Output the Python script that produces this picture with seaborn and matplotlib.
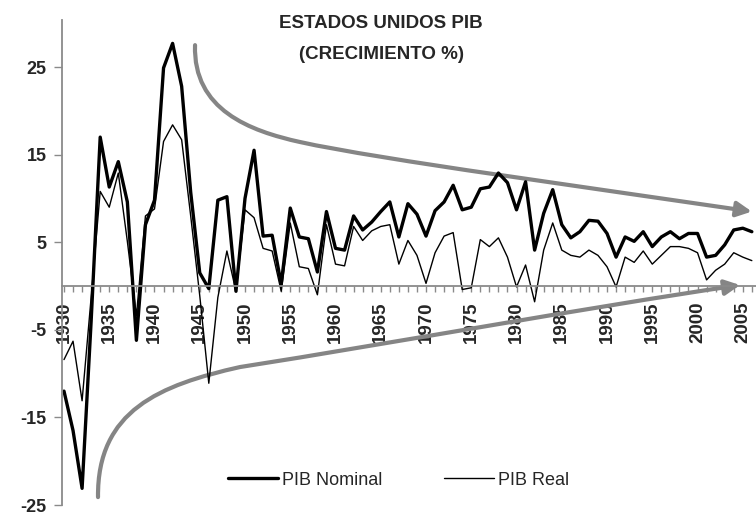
import matplotlib
matplotlib.use("Agg")
import matplotlib.pyplot as plt
from matplotlib.path import Path
from matplotlib.patches import FancyArrowPatch
import seaborn as sns
import pandas as pd

# data, 1930-2006 (% annual growth)
years = list(range(1930, 2007))
pib_nominal = [
    -12.0, -16.5, -23.1, -4.0, 17.0, 11.3, 14.2, 9.6, -6.2, 7.0,
    9.8, 24.9, 27.7, 22.8, 10.7, 1.5, -0.3, 9.8, 10.2, -0.6,
    10.0, 15.5, 5.7, 5.8, 0.2, 8.9, 5.6, 5.4, 1.6, 8.5,
    4.3, 4.1, 8.0, 6.4, 7.3, 8.5, 9.6, 5.6, 9.4, 8.2,
    5.7, 8.6, 9.6, 11.5, 8.7, 9.0, 11.1, 11.3, 12.9, 11.8,
    8.7, 11.9, 4.1, 8.3, 11.0, 7.0, 5.5, 6.2, 7.5, 7.4,
    6.0, 3.3, 5.6, 5.1, 6.2, 4.5, 5.6, 6.2, 5.4, 6.0,
    6.0, 3.3, 3.5, 4.7, 6.4, 6.6, 6.2,
]
pib_real = [
    -8.4, -6.3, -13.1, -1.3, 10.8, 9.0, 12.9, 5.1, -3.4, 8.0,
    8.8, 16.5, 18.4, 16.7, 8.0, -1.1, -11.1, -1.3, 4.0, -0.6,
    8.7, 7.8, 4.3, 4.0, -0.6, 7.2, 2.2, 2.0, -1.0, 7.0,
    2.5, 2.3, 6.8, 5.2, 6.3, 6.8, 7.0, 2.5, 5.2, 3.5,
    0.3, 3.8, 5.7, 6.1, -0.4, -0.2, 5.3, 4.5, 5.5, 3.3,
    -0.1, 2.4, -1.8, 4.1, 7.2, 4.1, 3.5, 3.3, 4.1, 3.5,
    2.2, -0.1, 3.3, 2.7, 4.0, 2.5, 3.5, 4.5, 4.5, 4.3,
    3.8, 0.7, 1.8, 2.5, 3.8, 3.3, 2.9,
]
tick_years = list(range(1930, 2006, 5))
y_ticks = [-25, -15, -5, 5, 15, 25]

df = pd.DataFrame({"year": years, "nominal": pib_nominal, "real": pib_real})

sns.set_style("white")
plt.rcParams["font.family"] = ["Liberation Sans", "DejaVu Sans"]

fig = plt.figure(figsize=(7.56, 5.14), dpi=100)
ax = fig.add_axes([62 / 756, 9 / 514, 694 / 756, 485 / 514])

sns.lineplot(data=df, x="year", y="nominal", ax=ax, color="black", lw=2.4, label="PIB Nominal")
sns.lineplot(data=df, x="year", y="real", ax=ax, color="black", lw=1.0, label="PIB Real")

ax.set_xlim(1929.78, 2006.46)
ax.set_ylim(-25, 30.37)
ax.set_xlabel("")
ax.set_ylabel("")

# axes look
grey = "#8a8a8a"
for s in ["top", "right"]:
    ax.spines[s].set_visible(False)
ax.spines["bottom"].set_position(("data", 0))
ax.spines["bottom"].set_color(grey)
ax.spines["left"].set_color(grey)
ax.spines["bottom"].set_linewidth(1.3)
ax.spines["left"].set_linewidth(1.3)

ax.set_xticks(tick_years)
ax.set_xticks(years, minor=True)
ax.set_xticklabels([str(y) for y in tick_years], rotation=90, fontsize=13.5, fontweight="bold")
ax.tick_params(axis="x", which="both", direction="out", length=4, width=1, color=grey, pad=7, bottom=True)
ax.set_yticks(y_ticks)
ax.set_yticklabels([str(v) for v in y_ticks], fontsize=13, fontweight="bold")
ax.tick_params(axis="y", direction="out", length=6, width=1, color=grey, pad=5, left=True)
for lab in ax.get_xticklabels():
    lab.set_verticalalignment("top")

# title
fig.text(0.504, 0.955, "ESTADOS UNIDOS PIB", ha="center", va="center", fontsize=13.5, fontweight="bold")
fig.text(0.505, 0.893, "(CRECIMIENTO %)", ha="center", va="center", fontsize=13.5, fontweight="bold")

# legend
ax.get_legend().remove()
handles, labels = ax.get_legend_handles_labels()
fig.legend(handles, labels, loc="center", bbox_to_anchor=(0.527, 0.066), ncol=2, frameon=False,
           fontsize=13, handlelength=2.8, handletextpad=0.2, columnspacing=3.4)

# the two grey funnel arrows
arrow_grey = "#858585"
top_path = Path(
    [(1944.48, 27.5), (1944.26, 20.1), (1950.55, 17.7), (1956.08, 16.44),
     (1964.92, 14.43), (1989.23, 11.07), (2006.0, 8.5)],
    [Path.MOVETO, Path.CURVE4, Path.CURVE4, Path.CURVE4, Path.CURVE4, Path.CURVE4, Path.CURVE4],
)
bottom_path = Path(
    [(1933.76, -24.1), (1933.65, -14.2), (1940.6, -11.3), (1949.45, -9.25),
     (1967.0, -6.4), (1987.0, -2.6), (2004.7, 0.11)],
    [Path.MOVETO, Path.CURVE4, Path.CURVE4, Path.CURVE4, Path.CURVE4, Path.CURVE4, Path.CURVE4],
)
for p in [top_path, bottom_path]:
    arr = FancyArrowPatch(path=p, arrowstyle="-|>,head_length=0.5,head_width=0.25",
                          mutation_scale=18, color=arrow_grey, lw=3, clip_on=False, zorder=1)
    ax.add_patch(arr)

fig.savefig("out.png", dpi=100)
